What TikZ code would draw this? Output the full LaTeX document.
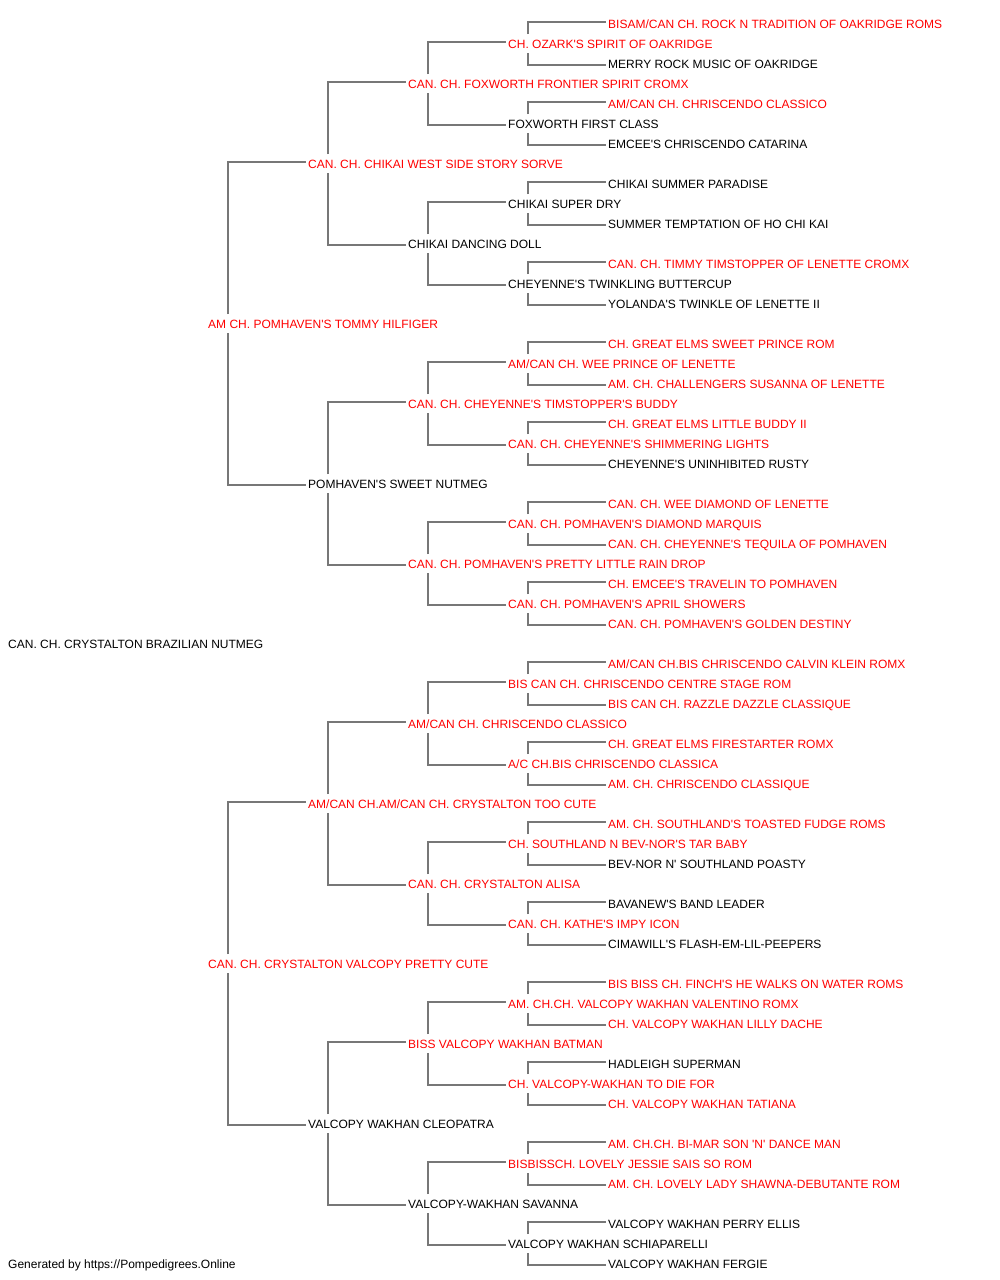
\documentclass[tikz,border=0pt]{standalone}
\usepackage{fontspec}
\newfontfamily\lib{Liberation Sans}
\usetikzlibrary{calc}
\definecolor{lc}{RGB}{119,119,119}
\definecolor{rd}{RGB}{255,0,0}
\definecolor{bk}{RGB}{0,0,0}
\newcommand\pn[4]{\node[nm,text=#3] (n#1) at (#2,{28+20*#1}) {#4};}
\newcommand\pconn[2]{%
  \pgfmathtruncatemacro\sr{#1-#2}%
  \pgfmathtruncatemacro\dr{#1+#2}%
  \draw[conn] ($(n#1.base west)+(20,-14)$) |- ($(n\sr.base west)+(-2.5,-6.3)$);
  \draw[conn] ($(n#1.base west)+(20,5.3)$) |- ($(n\dr.base west)+(-2.5,-3)$);}
\begin{document}
\begin{tikzpicture}[x=1pt,y=-1pt,
  nm/.style={anchor=base west,inner sep=0pt,font=\lib\fontsize{12}{14}\selectfont},
  conn/.style={draw=lc,line width=1.8pt}]
\fill[white] (0,0) rectangle (1000,1280);
\useasboundingbox (0,0) rectangle (1000,1280);
\pn{0}{608}{rd}{BISAM/CAN CH. ROCK N TRADITION OF OAKRIDGE ROMS}
\pn{1}{508}{rd}{CH. OZARK'S SPIRIT OF OAKRIDGE}
\pn{2}{608}{bk}{MERRY ROCK MUSIC OF OAKRIDGE}
\pn{3}{408}{rd}{CAN. CH. FOXWORTH FRONTIER SPIRIT CROMX}
\pn{4}{608}{rd}{AM/CAN CH. CHRISCENDO CLASSICO}
\pn{5}{508}{bk}{FOXWORTH FIRST CLASS}
\pn{6}{608}{bk}{EMCEE'S CHRISCENDO CATARINA}
\pn{7}{308}{rd}{CAN. CH. CHIKAI WEST SIDE STORY SORVE}
\pn{8}{608}{bk}{CHIKAI SUMMER PARADISE}
\pn{9}{508}{bk}{CHIKAI SUPER DRY}
\pn{10}{608}{bk}{SUMMER TEMPTATION OF HO CHI KAI}
\pn{11}{408}{bk}{CHIKAI DANCING DOLL}
\pn{12}{608}{rd}{CAN. CH. TIMMY TIMSTOPPER OF LENETTE CROMX}
\pn{13}{508}{bk}{CHEYENNE'S TWINKLING BUTTERCUP}
\pn{14}{608}{bk}{YOLANDA'S TWINKLE OF LENETTE II}
\pn{15}{208}{rd}{AM CH. POMHAVEN'S TOMMY HILFIGER}
\pn{16}{608}{rd}{CH. GREAT ELMS SWEET PRINCE ROM}
\pn{17}{508}{rd}{AM/CAN CH. WEE PRINCE OF LENETTE}
\pn{18}{608}{rd}{AM. CH. CHALLENGERS SUSANNA OF LENETTE}
\pn{19}{408}{rd}{CAN. CH. CHEYENNE'S TIMSTOPPER'S BUDDY}
\pn{20}{608}{rd}{CH. GREAT ELMS LITTLE BUDDY II}
\pn{21}{508}{rd}{CAN. CH. CHEYENNE'S SHIMMERING LIGHTS}
\pn{22}{608}{bk}{CHEYENNE'S UNINHIBITED RUSTY}
\pn{23}{308}{bk}{POMHAVEN'S SWEET NUTMEG}
\pn{24}{608}{rd}{CAN. CH. WEE DIAMOND OF LENETTE}
\pn{25}{508}{rd}{CAN. CH. POMHAVEN'S DIAMOND MARQUIS}
\pn{26}{608}{rd}{CAN. CH. CHEYENNE'S TEQUILA OF POMHAVEN}
\pn{27}{408}{rd}{CAN. CH. POMHAVEN'S PRETTY LITTLE RAIN DROP}
\pn{28}{608}{rd}{CH. EMCEE'S TRAVELIN TO POMHAVEN}
\pn{29}{508}{rd}{CAN. CH. POMHAVEN'S APRIL SHOWERS}
\pn{30}{608}{rd}{CAN. CH. POMHAVEN'S GOLDEN DESTINY}
\pn{31}{8}{bk}{CAN. CH. CRYSTALTON BRAZILIAN NUTMEG}
\pn{32}{608}{rd}{AM/CAN CH.BIS CHRISCENDO CALVIN KLEIN ROMX}
\pn{33}{508}{rd}{BIS CAN CH. CHRISCENDO CENTRE STAGE ROM}
\pn{34}{608}{rd}{BIS CAN CH. RAZZLE DAZZLE CLASSIQUE}
\pn{35}{408}{rd}{AM/CAN CH. CHRISCENDO CLASSICO}
\pn{36}{608}{rd}{CH. GREAT ELMS FIRESTARTER ROMX}
\pn{37}{508}{rd}{A/C CH.BIS CHRISCENDO CLASSICA}
\pn{38}{608}{rd}{AM. CH. CHRISCENDO CLASSIQUE}
\pn{39}{308}{rd}{AM/CAN CH.AM/CAN CH. CRYSTALTON TOO CUTE}
\pn{40}{608}{rd}{AM. CH. SOUTHLAND'S TOASTED FUDGE ROMS}
\pn{41}{508}{rd}{CH. SOUTHLAND N BEV-NOR'S TAR BABY}
\pn{42}{608}{bk}{BEV-NOR N' SOUTHLAND POASTY}
\pn{43}{408}{rd}{CAN. CH. CRYSTALTON ALISA}
\pn{44}{608}{bk}{BAVANEW'S BAND LEADER}
\pn{45}{508}{rd}{CAN. CH. KATHE'S IMPY ICON}
\pn{46}{608}{bk}{CIMAWILL'S FLASH-EM-LIL-PEEPERS}
\pn{47}{208}{rd}{CAN. CH. CRYSTALTON VALCOPY PRETTY CUTE}
\pn{48}{608}{rd}{BIS BISS CH. FINCH'S HE WALKS ON WATER ROMS}
\pn{49}{508}{rd}{AM. CH.CH. VALCOPY WAKHAN VALENTINO ROMX}
\pn{50}{608}{rd}{CH. VALCOPY WAKHAN LILLY DACHE}
\pn{51}{408}{rd}{BISS VALCOPY WAKHAN BATMAN}
\pn{52}{608}{bk}{HADLEIGH SUPERMAN}
\pn{53}{508}{rd}{CH. VALCOPY-WAKHAN TO DIE FOR}
\pn{54}{608}{rd}{CH. VALCOPY WAKHAN TATIANA}
\pn{55}{308}{bk}{VALCOPY WAKHAN CLEOPATRA}
\pn{56}{608}{rd}{AM. CH.CH. BI-MAR SON 'N' DANCE MAN}
\pn{57}{508}{rd}{BISBISSCH. LOVELY JESSIE SAIS SO ROM}
\pn{58}{608}{rd}{AM. CH. LOVELY LADY SHAWNA-DEBUTANTE ROM}
\pn{59}{408}{bk}{VALCOPY-WAKHAN SAVANNA}
\pn{60}{608}{bk}{VALCOPY WAKHAN PERRY ELLIS}
\pn{61}{508}{bk}{VALCOPY WAKHAN SCHIAPARELLI}
\pn{62}{608}{bk}{VALCOPY WAKHAN FERGIE}
\node[nm,text=bk] (foot) at (8,1268) {Generated by https://Pompedigrees.Online};
\foreach \r in {1,5,...,61} {\pconn{\r}{1}}
\foreach \r in {3,11,...,59} {\pconn{\r}{2}}
\foreach \r in {7,23,39,55} {\pconn{\r}{4}}
\foreach \r in {15,47} {\pconn{\r}{8}}
\end{tikzpicture}
\end{document}
